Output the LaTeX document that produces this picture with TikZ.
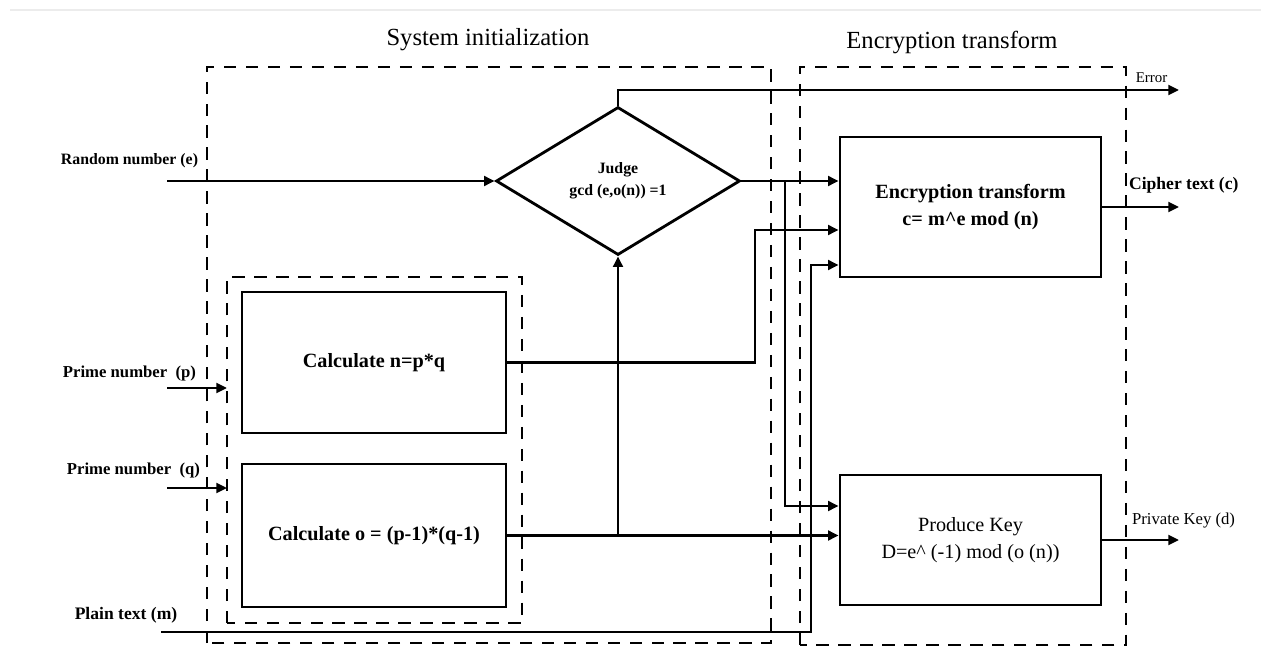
\documentclass[tikz,border=0pt]{standalone}
\usepackage{fontspec}
\setmainfont{Liberation Serif}
\usetikzlibrary{arrows.meta,shapes.geometric}

\begin{document}
\begin{tikzpicture}[
  blk/.style={draw, line width=1.6pt, minimum width=5.22cm, align=center, inner sep=2pt, font=\fontsize{11.5}{15}\selectfont\bfseries},
  grp/.style={draw, line width=1.5pt, dash pattern=on 7pt off 5.5pt},
  wire/.style={line width=1.5pt},
  flow/.style={wire, -{Triangle[length=6pt,width=5.5pt]}},
  lbl/.style={inner sep=1pt, font=\fontsize{10}{12}\selectfont\bfseries},
  ttl/.style={font=\fontsize{14}{16}\selectfont},
]

\useasboundingbox (0,0) rectangle (25.22,13.18);
\draw [gray!15, line width=0.8pt] (0.2,12.98) -- (25.22,12.98);

% dashed groups
\draw [grp] (4.14,0.32) rectangle (15.42,11.84);
\draw [grp] (16.0,0.28) rectangle (22.52,11.84);
\draw [grp] (4.54,0.72) rectangle (10.44,7.64);
\node [ttl] (tsys) at (9.76,12.38) {System initialization};
\node [ttl] (tenc) at (19.04,12.34) {Encryption transform};

% blocks
\node [blk, minimum width=5.28cm, minimum height=2.82cm] (calcn) at (7.48,5.93) {Calculate n=p*q};
\node [blk, minimum width=5.28cm, minimum height=2.86cm] (calco) at (7.48,2.47) {Calculate o = (p-1)*(q-1)};
\node [draw, diamond, line width=1.6pt, minimum width=4.88cm, minimum height=2.96cm, inner sep=0pt, align=center,
  font=\fontsize{9}{12.5}\selectfont\bfseries] (judge) at (12.36,9.56) {Judge\\gcd (e,o(n)) =1};
\node [blk, minimum height=2.8cm] (enc) at (19.41,9.04) {Encryption transform\\c= m\textasciicircum e mod (n)};
\node [blk, minimum height=2.6cm, font=\fontsize{11.5}{15}\selectfont] (key) at (19.41,2.38) {Produce Key\\D=e\textasciicircum\ (-1) mod (o (n))};

% inputs and outputs
\coordinate (rin) at (3.34,9.56);
\coordinate (pin) at (3.34,5.42);
\coordinate (pend) at (4.54,5.42);
\coordinate (qin) at (3.34,3.42);
\coordinate (qend) at (4.54,3.42);
\coordinate (min) at (3.22,0.54);
\coordinate (mup) at (16.22,7.88);
\coordinate (nup) at (15.10,8.58);
\coordinate (jdn) at (15.70,3.06);
\coordinate (err) at (23.58,11.38);
\coordinate (outx) at (23.58,0);

\node [lbl, font=\fontsize{9}{11}\selectfont\bfseries] (lrand) at (2.59,9.96) {Random number (e)};
\node [lbl, font=\fontsize{9.5}{11}\selectfont\bfseries] (lp) at (2.59,5.72) {Prime number\ \ (p)};
\node [lbl, font=\fontsize{9.5}{11}\selectfont\bfseries] (lq) at (2.67,3.78) {Prime number\ \ (q)};
\node [lbl] (lm) at (2.52,0.88) {Plain text (m)};
\node [lbl, font=\fontsize{8.5}{10}\selectfont] (lerr) at (23.03,11.62) {Error};
\node [lbl, anchor=west] (lc) at (22.54,9.48) {Cipher text (c)};
\node [lbl, anchor=west, font=\fontsize{9.5}{11}\selectfont] (ld) at (22.6,2.76) {Private Key (d)};

% connectors
\draw [flow] (rin) -- (judge.west);
\draw [flow] (pin) -- (pend);
\draw [flow] (qin) -- (qend);
\draw [flow] (judge.north) |- (err);
\draw [flow] (judge.east) -- (judge.east -| enc.west);
\draw [flow] (judge.east -| jdn) |- (jdn -| key.west);
\draw [flow] (calcn.east) -| (nup) -- (nup -| enc.west);
\draw [flow] (calco.east) -- (calco.east -| key.west);
\draw [flow] (calco.east -| judge.south) -- (judge.south);
\draw [flow] (min) -| (mup) -- (mup -| enc.west);
\draw [flow] (enc.east) -- (enc.east -| outx);
\draw [flow] (key.east) -- (key.east -| outx);

\end{tikzpicture}
\end{document}
